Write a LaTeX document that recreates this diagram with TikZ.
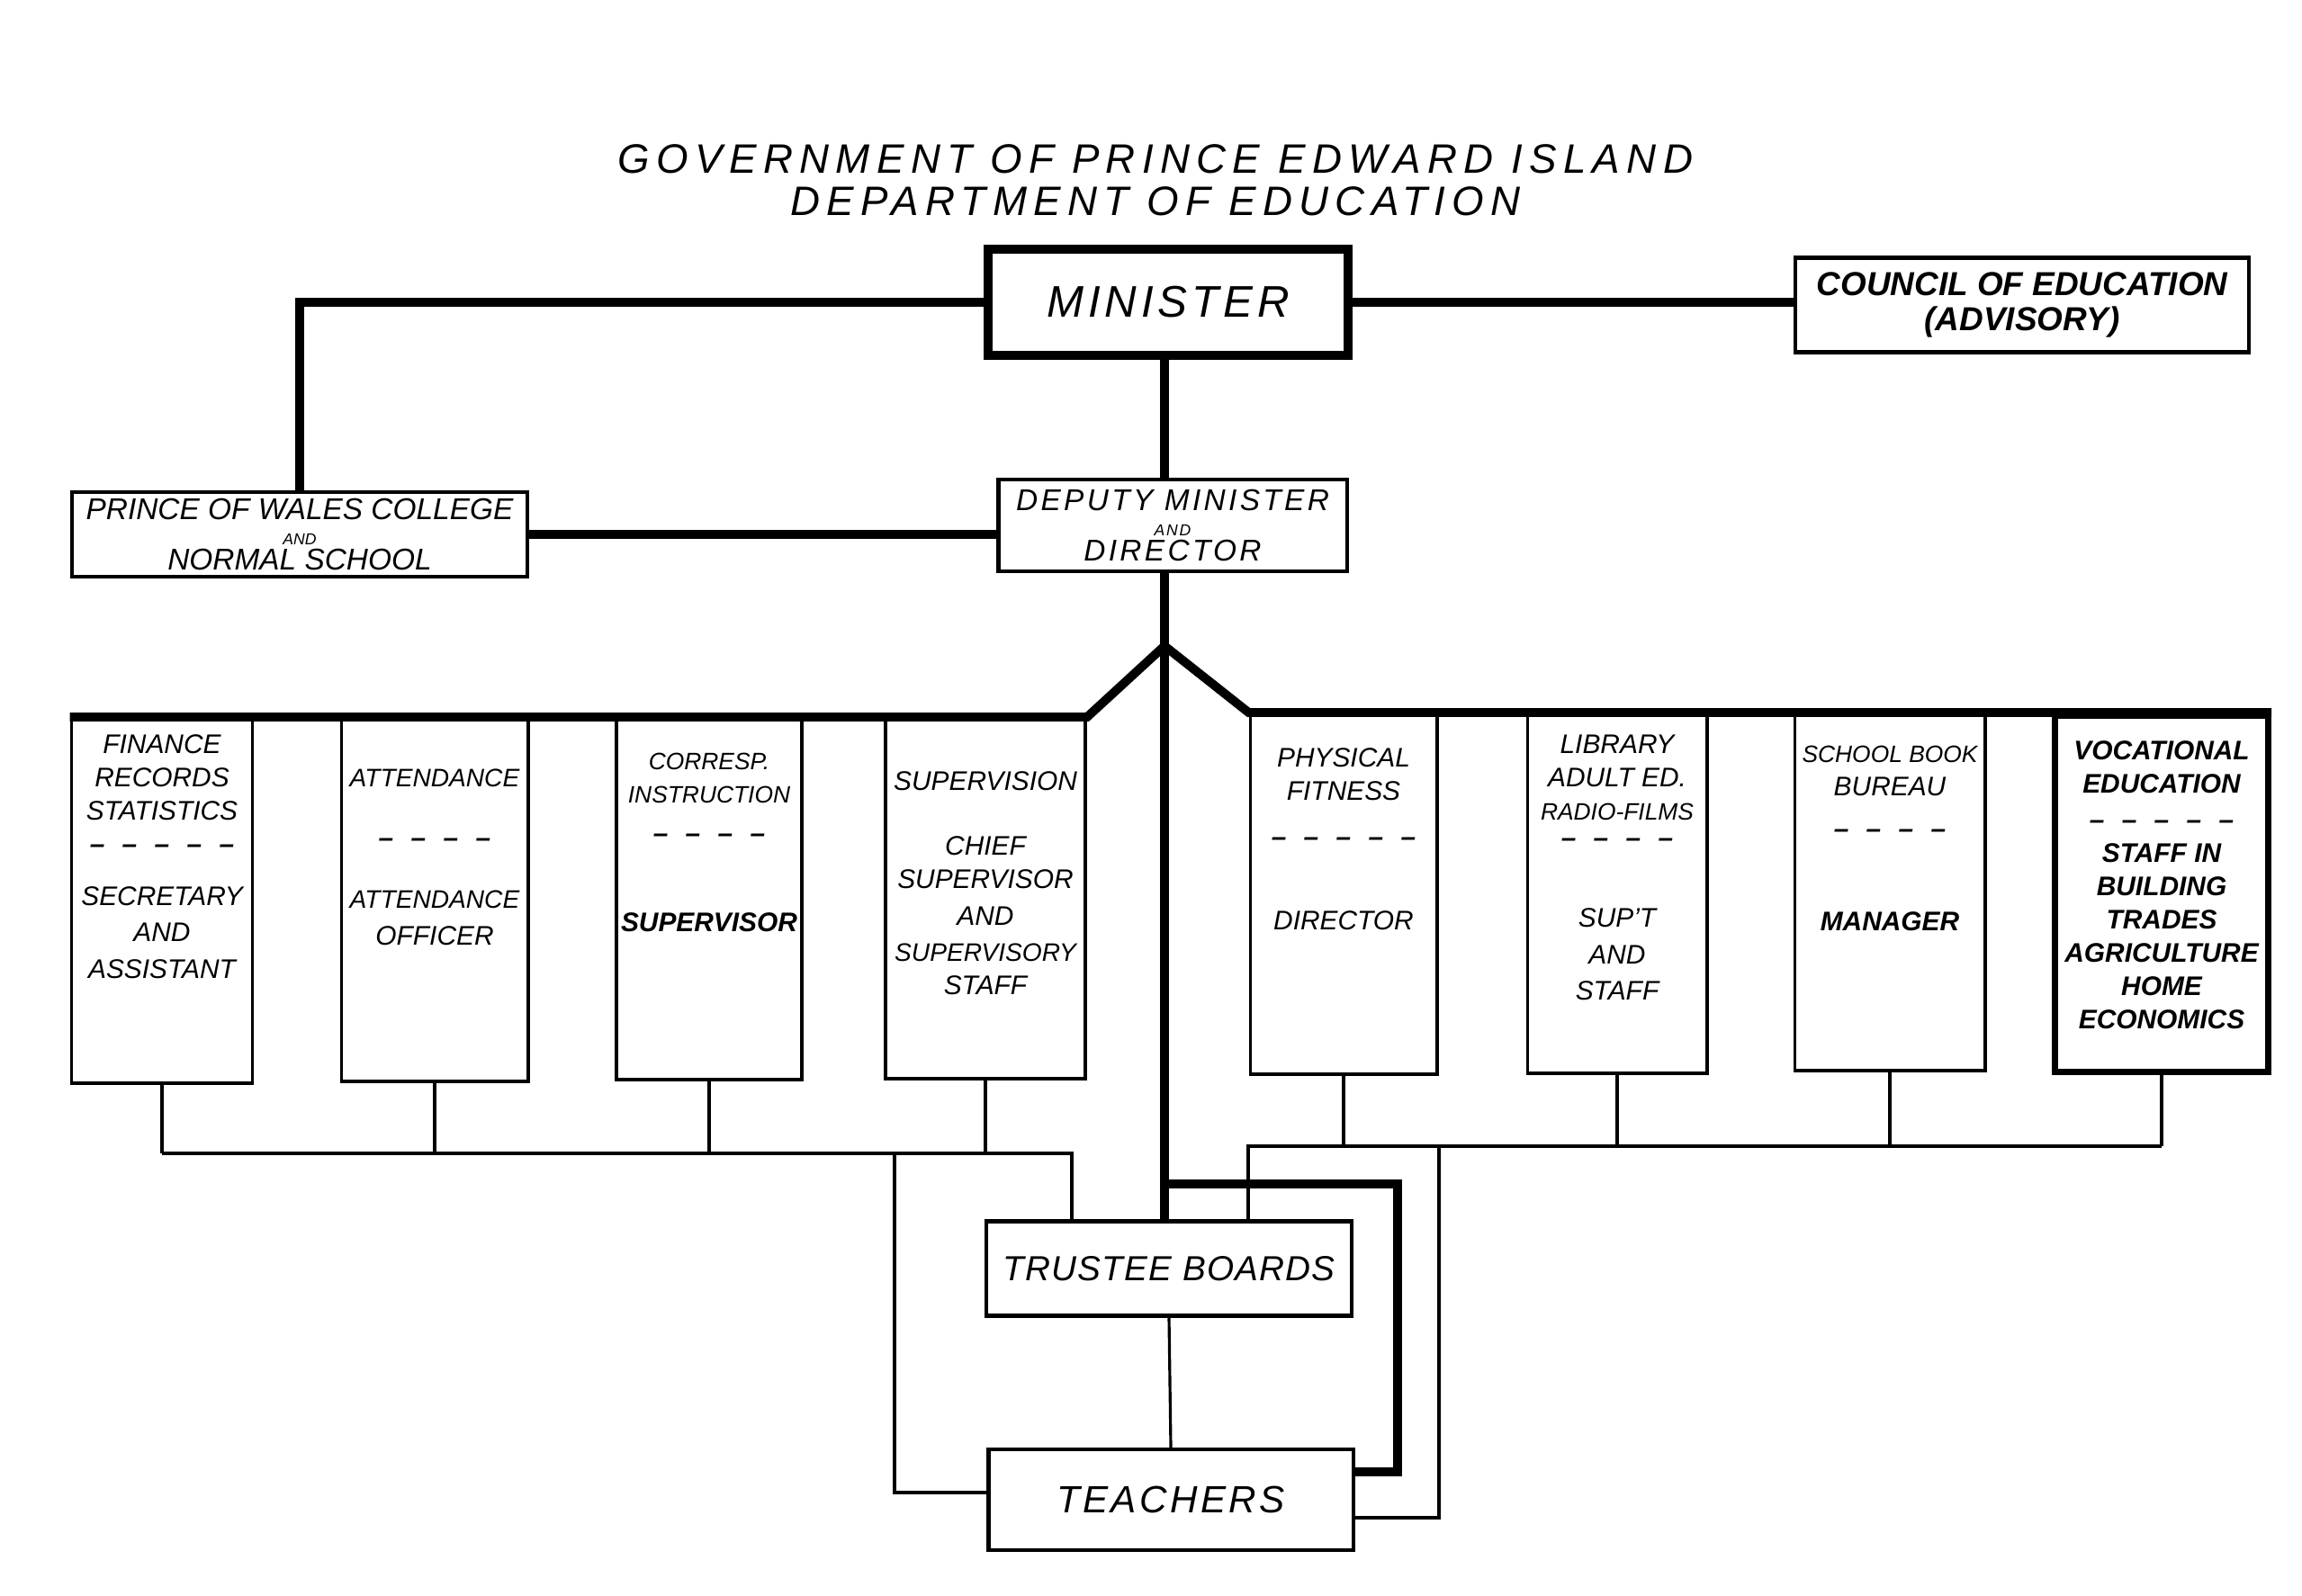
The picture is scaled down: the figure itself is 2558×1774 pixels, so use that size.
\documentclass[tikz,border=0pt]{standalone}
\usepackage{fontspec}
\setmainfont{Liberation Sans}
\usetikzlibrary{positioning}
\newcommand{\fourdash}{\textbf{–\hspace{5.5pt}–\hspace{5.5pt}–\hspace{5.5pt}–}}
\newcommand{\fivedash}{\textbf{–\hspace{5.5pt}–\hspace{5.5pt}–\hspace{5.5pt}–\hspace{5.5pt}–}}

\begin{document}
\begin{tikzpicture}[x=0.01cm, y=-0.01cm]
\tikzstyle{box}=[draw, line width=1.2pt, align=center, inner sep=0pt]
\tikzstyle{colbox}=[draw, line width=1.1pt, anchor=north]
\tikzstyle{coltext}=[align=center, inner sep=0pt, font=\itshape\fontsize{8.5}{10.5}\selectfont]
\tikzstyle{heavy}=[line width=2.8pt]
\tikzstyle{slim}=[line width=0.9pt]
\useasboundingbox (0,0) rectangle (2558,1774);

\node[align=center, font=\itshape\fontsize{13}{13.4}\selectfont\addfontfeature{LetterSpace=16}] (title) at (1284,200) {GOVERNMENT OF PRINCE EDWARD ISLAND\\DEPARTMENT OF EDUCATION};

\node[box, line width=2.8pt, minimum width=4cm, minimum height=1.18cm, font=\itshape\fontsize{14}{16}\selectfont\addfontfeature{LetterSpace=10}] (min) at (1298,336) {MINISTER};
\node[box, minimum width=5.04cm, minimum height=1.05cm, font=\bfseries\itshape\fontsize{10.5}{11}\selectfont] (coun) at (2247,339) {COUNCIL OF EDUCATION\\(ADVISORY)};
\node[box, minimum width=5.06cm, minimum height=0.94cm, font=\itshape\fontsize{9.5}{8}\selectfont] (pow) at (333,594) {PRINCE OF WALES COLLEGE\\{\fontsize{5}{8}\selectfont AND}\\NORMAL SCHOOL};
\node[box, minimum width=3.87cm, minimum height=1.02cm, font=\itshape\fontsize{9.5}{8}\selectfont\addfontfeature{LetterSpace=10}] (dep) at (1303,584) {DEPUTY MINISTER\\{\fontsize{5}{8}\selectfont AND}\\DIRECTOR};

% branches
\node[colbox, minimum width=2.01cm, minimum height=4.05cm] (fin) at (180,797) {};
\node[colbox, minimum width=2.07cm, minimum height=4.03cm] (att) at (483,797) {};
\node[colbox, minimum width=2.06cm, minimum height=4.01cm] (cor) at (788,797) {};
\node[colbox, minimum width=2.22cm, minimum height=4.0cm] (sup) at (1095,797) {};
\node[colbox, minimum width=2.07cm, minimum height=4.0cm] (phy) at (1493,792) {};
\node[colbox, minimum width=1.99cm, minimum height=3.99cm] (lib) at (1797,792) {};
\node[colbox, minimum width=2.11cm, minimum height=3.96cm] (sbb) at (2100,792) {};
\node[colbox, line width=2pt, minimum width=2.37cm, minimum height=3.96cm] (voc) at (2402,792) {};

\node[coltext, below=0.19cm of fin.north] (fintext) {FINANCE\\RECORDS\\STATISTICS\\ \fivedash\\[6pt]SECRETARY\\[1pt]AND\\[1pt]ASSISTANT};
\node[coltext, below=0.57cm of att.north] (atttext) {{\fontsize{8}{10.5}\selectfont ATTENDANCE}\\[8.5pt]\fourdash\\[9pt]{\fontsize{8}{10.5}\selectfont ATTENDANCE}\\[1pt]OFFICER};
\node[coltext, below=0.39cm of cor.north] (cortext) {{\fontsize{7.5}{10.5}\selectfont CORRESP.}\\{\fontsize{7.5}{10.5}\selectfont INSTRUCTION}\\[2pt]\fourdash\\[17.8pt]\textbf{SUPERVISOR}};
\node[coltext, below=0.60cm of sup.north] (suptext) {SUPERVISION\\[10pt]CHIEF\\SUPERVISOR\\[1pt]AND\\[1pt]{\fontsize{8}{10.5}\selectfont SUPERVISORY}\\STAFF};
\node[coltext, below=0.39cm of phy.north] (phytext) {PHYSICAL\\FITNESS\\[3.9pt]\fivedash\\[16pt]DIRECTOR};
\node[coltext, below=0.24cm of lib.north] (libtext) {LIBRARY\\ADULT ED.\\{\fontsize{7.5}{10.5}\selectfont RADIO-FILMS}\\[-2pt]\fourdash\\[15pt]SUP’T\\[1pt]AND\\[1pt]STAFF};
\node[coltext, below=0.36cm of sbb.north] (sbbtext) {{\fontsize{7.5}{10.5}\selectfont SCHOOL BOOK}\\BUREAU\\[3pt]\fourdash\\[18.7pt]\textbf{MANAGER}};
\node[coltext, font=\itshape\bfseries\fontsize{8.5}{10.5}\selectfont, below=0.31cm of voc.north] (voctext) {VOCATIONAL\\EDUCATION\\[1pt]\fivedash\\STAFF IN\\BUILDING\\TRADES\\AGRICULTURE\\HOME\\ECONOMICS};

\node[box, minimum width=4.06cm, minimum height=1.05cm, font=\itshape\fontsize{11}{13}\selectfont\addfontfeature{LetterSpace=3}] (tb) at (1299,1410) {TRUSTEE BOARDS};
\node[box, minimum width=4.05cm, minimum height=1.12cm, font=\itshape\fontsize{12}{14}\selectfont\addfontfeature{LetterSpace=8}] (te) at (1301,1667) {TEACHERS};

% heavy lines
\coordinate (fork) at (1294,718);
\draw[heavy] (min.east) -- (coun.west |- min.east);
\draw[heavy] (min.west) -| (pow.north);
\draw[heavy] (pow.east) -- (pow.east -| dep.west);
\draw[heavy] (min.south -| fork) -- (dep.north -| fork);
\draw[heavy] (dep.south -| fork) -- (fork) -- (fork |- tb.north);
\draw[heavy] (fork) -- (sup.north east) -- (fin.north west);
\draw[heavy] (fork) -- (phy.north west) -- (voc.north east);
\coordinate (tap) at (1294,1316);
\coordinate (bend) at (1553,1316);
\draw[heavy] (tap) -- (bend) |- ([yshift=0.31cm]te.east);

% thin lines
\coordinate (lbus) at (0,1282);
\draw[slim] (fin.south) -- (fin.south |- lbus);
\draw[slim] (att.south) -- (att.south |- lbus);
\draw[slim] (cor.south) -- (cor.south |- lbus);
\draw[slim] (sup.south) -- (sup.south |- lbus);
\coordinate (lin) at (1191,1282);
\coordinate (lout) at (994,1282);
\draw[slim] (fin.south |- lbus) -- (lin) -- (lin |- tb.north);
\draw[slim] (lout) |- ([yshift=0.08cm]te.west);

\coordinate (rbus) at (0,1274);
\draw[slim] (phy.south) -- (phy.south |- rbus);
\draw[slim] (lib.south) -- (lib.south |- rbus);
\draw[slim] (sbb.south) -- (sbb.south |- rbus);
\draw[slim] (voc.south) -- (voc.south |- rbus);
\coordinate (rin) at (1387,1274);
\coordinate (rout) at (1599,1274);
\draw[slim] (voc.south |- rbus) -- (rin) -- (rin |- tb.north);
\draw[slim] (rout) |- ([yshift=-0.2cm]te.east);
\draw[slim] (tb.south) -- (te.north);
\end{tikzpicture}
\end{document}
